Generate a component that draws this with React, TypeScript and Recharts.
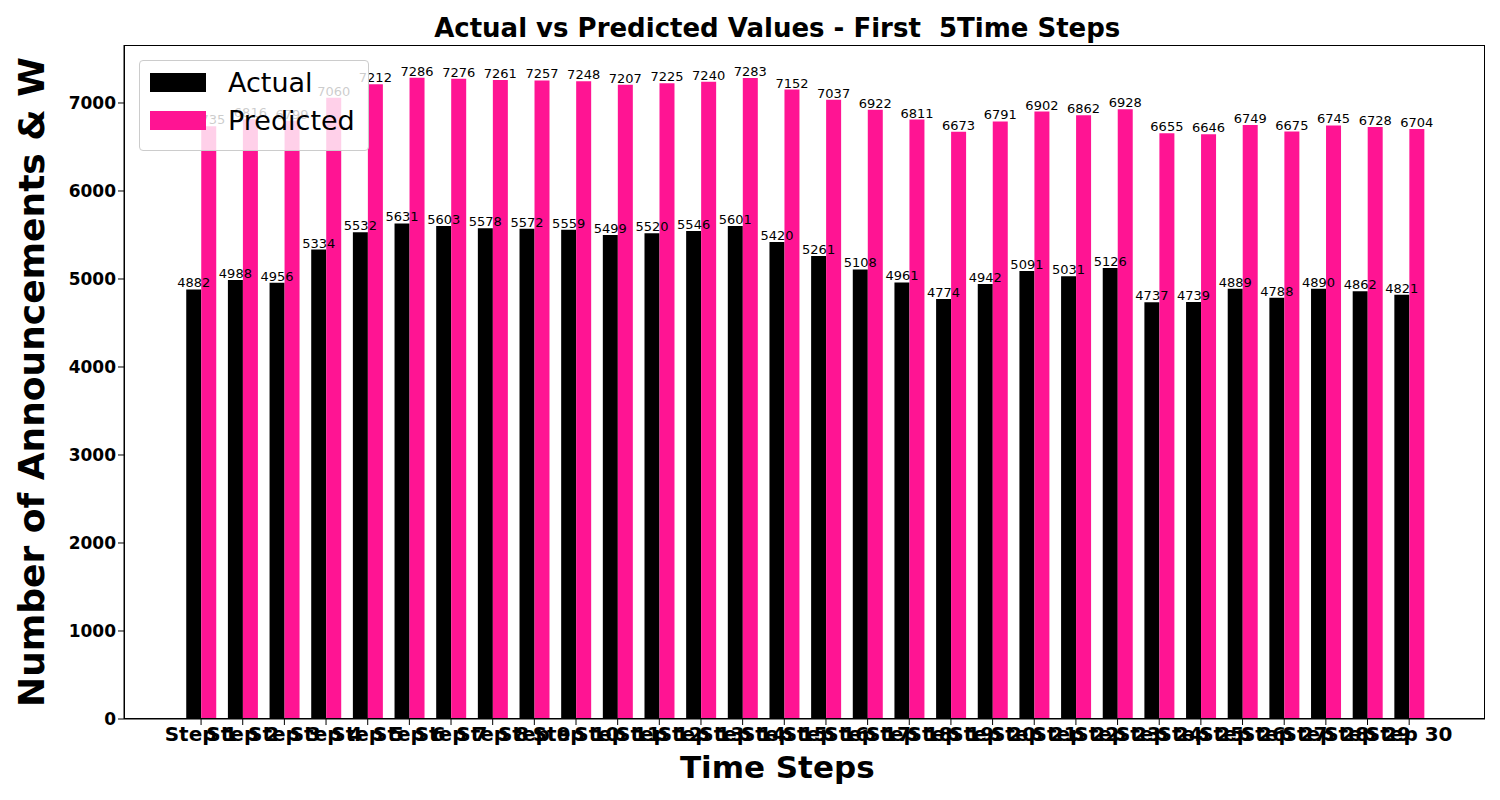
import { BarChart, Bar, XAxis, YAxis, LabelList } from "recharts";

const steps = Array.from({ length: 30 }, (_, i) => i + 1);
const actual = [4882, 4988, 4956, 5334, 5532, 5631, 5603, 5578, 5572, 5559, 5499, 5520, 5546, 5601, 5420, 5261, 5108, 4961, 4774, 4942, 5091, 5031, 5126, 4737, 4739, 4889, 4788, 4890, 4862, 4821];
const predicted = [6735, 6816, 6799, 7060, 7212, 7286, 7276, 7261, 7257, 7248, 7207, 7225, 7240, 7283, 7152, 7037, 6922, 6811, 6673, 6791, 6902, 6862, 6928, 6655, 6646, 6749, 6675, 6745, 6728, 6704];
const yTicks = [0, 1000, 2000, 3000, 4000, 5000, 6000, 7000];

const data = steps.map((s, i) => ({ step: s, actual: actual[i], predicted: predicted[i] }));

const font = "'DejaVu Sans', sans-serif";

export default function App() {
  return (
    <div style={{ position: "relative", width: 1500, height: 800, margin: "-8px 0 0 -8px", fontFamily: font, background: "#fff" }}>
      <BarChart width={1500} height={800} data={data} margin={{ top: 45, right: 15, left: 64, bottom: 21 }} barGap={0} barSize={15}>
        <XAxis
          dataKey="step"
          type="number"
          domain={[-0.85, 31.82]}
          ticks={steps}
          interval={0}
          tickFormatter={(v) => `Step ${v}`}
          tick={{ fill: "#000", fontSize: 20, fontWeight: "bold", fontFamily: font }}
          tickLine={{ stroke: "#000" }}
          axisLine={{ stroke: "#000" }}
          height={60}
        />
        <YAxis
          domain={[0, 7659]}
          ticks={yTicks}
          width={60}
          tick={{ fill: "#000", fontSize: 17, fontWeight: "bold", fontFamily: font }}
          tickLine={{ stroke: "#000" }}
          axisLine={{ stroke: "#000" }}
        />
        <Bar dataKey="actual" fill="#000000" isAnimationActive={false}>
          <LabelList dataKey="actual" position="top" offset={2} style={{ fontSize: 13, fill: "#000", fontFamily: font }} />
        </Bar>
        <Bar dataKey="predicted" fill="#ff1493" isAnimationActive={false}>
          <LabelList dataKey="predicted" position="top" offset={2} style={{ fontSize: 13, fill: "#000", fontFamily: font }} />
        </Bar>
      </BarChart>
      <div style={{ position: "absolute", left: 124, top: 45, width: 1361, height: 674, border: "1px solid #000", boxSizing: "border-box", pointerEvents: "none" }} />
      <div style={{ position: "absolute", left: 0, width: 1500, top: 13, paddingLeft: 124 + 1361 / 2 - 750, boxSizing: "border-box", textAlign: "center", fontSize: 26, fontWeight: "bold", whiteSpace: "pre" }}>
        {"Actual vs Predicted Values - First  5Time Steps"}
      </div>
      <div style={{ position: "absolute", left: 0, width: 1500, top: 749, paddingLeft: 124 + 1361 / 2 - 750, boxSizing: "border-box", textAlign: "center", fontSize: 31, fontWeight: "bold" }}>
        Time Steps
      </div>
      <div style={{ position: "absolute", left: 31, top: 382, transform: "translate(-50%, -50%) rotate(-90deg)", fontSize: 36, fontWeight: "bold", whiteSpace: "nowrap" }}>
        Number of Announcements &amp; W
      </div>
      <div style={{ position: "absolute", left: 139, top: 60, width: 230, height: 91, background: "rgba(255,255,255,0.8)", border: "1px solid #ccc", borderRadius: 4, boxSizing: "border-box", fontSize: 27 }}>
        <div style={{ display: "flex", alignItems: "center", marginTop: 6, marginLeft: 10 }}>
          <div style={{ width: 56, height: 19, background: "#000", marginRight: 22 }} />
          Actual
        </div>
        <div style={{ display: "flex", alignItems: "center", marginTop: 7, marginLeft: 10 }}>
          <div style={{ width: 56, height: 19, background: "#ff1493", marginRight: 22 }} />
          Predicted
        </div>
      </div>
    </div>
  );
}
